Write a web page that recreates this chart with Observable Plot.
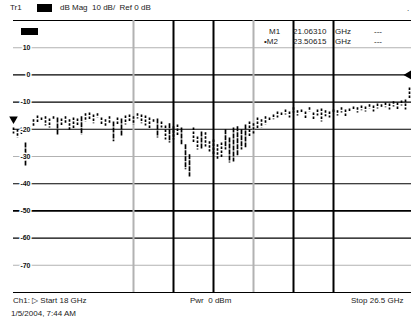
<!DOCTYPE html>
<html><head><meta charset="utf-8">
<script src="https://cdn.jsdelivr.net/npm/d3@7"></script>
<script src="https://cdn.jsdelivr.net/npm/@observablehq/plot@0.6"></script>
<style>
body{margin:0;background:#fff;}
#wrap{position:relative;width:411px;height:321px;overflow:hidden;font-family:"Liberation Sans",Arial,sans-serif;font-size:8px;color:#222;background:#fff;}
#wrap svg{position:absolute;left:0;top:0;}
.t{position:absolute;white-space:pre;line-height:1;}
.box{position:absolute;background:#000;}
</style></head><body><div id="wrap"></div>
<script>
// Sweep / scale settings read from the annotation
const freqStart = 18, freqStop = 26.5, pointCount = 100;
const dbTop = 20, dbBottom = -80;
// Y labels
const yTicks = [10, 0, -10, -20, -30, -40, -50, -60, -70];
const yTickLabels = ["10", "0", "-10", "-20", "-30", "-40", "-50", "-60", "-70"];
// Horizontal graticule lines (dB) and style class: k = black, K = heavy black, g = gray
const hGridDb = [20, 10, 0, -10, -20, -30, -40, -50, -60, -70, -80];
const hGridStyle = ["k", "g", "k", "k", "k", "g", "k", "K", "k", "g", "k"];
// Vertical graticule lines (GHz)
const vGridGHz = [20.55, 21.4, 22.25, 23.1, 23.95, 24.8];
const vGridStyle = ["g", "k", "k", "g", "k", "k"];
// Trace: upper and lower value (dB) of each displayed point
const traceUpper = [-19.5,-20.2,-19.5,-25.0,-19.1,-16.5,-15.1,-15.8,-15.4,-16.2,
  -15.4,-15.8,-16.2,-15.4,-16.5,-15.8,-16.2,-15.4,-14.3,-14.0,
  -14.7,-14.3,-15.8,-16.5,-15.4,-17.3,-15.8,-16.2,-15.1,-14.7,
  -15.4,-14.3,-14.7,-15.1,-15.8,-16.5,-16.2,-17.3,-18.8,-18.0,
  -19.1,-18.4,-19.5,-25.7,-29.4,-19.5,-22.8,-21.0,-21.3,-24.6,
  -23.9,-25.7,-25.0,-20.2,-23.2,-19.5,-19.1,-20.2,-18.4,-17.3,
  -18.0,-15.8,-16.5,-15.4,-15.8,-14.7,-13.6,-14.0,-12.9,-13.6,
  -12.1,-13.2,-12.9,-13.6,-12.1,-14.0,-12.9,-12.5,-13.2,-13.6,
  -12.9,-13.2,-12.1,-12.9,-12.5,-11.8,-12.1,-11.4,-11.8,-11.0,
  -11.4,-10.7,-11.0,-10.3,-10.7,-9.9,-10.3,-9.6,-9.2,-4.8];
const traceLower = [-21.7,-23.2,-22.1,-33.5,-20.6,-19.1,-18.0,-17.3,-18.8,-19.5,
  -16.9,-22.1,-18.8,-18.0,-20.6,-20.2,-18.8,-22.1,-17.3,-16.5,
  -18.0,-15.8,-18.4,-19.1,-18.0,-24.6,-18.8,-22.8,-18.4,-17.6,
  -18.4,-16.2,-18.0,-18.8,-20.2,-18.0,-23.2,-19.5,-23.9,-25.0,
  -23.9,-22.8,-25.7,-34.9,-37.5,-25.0,-27.6,-27.6,-26.5,-28.3,
  -29.4,-31.3,-30.5,-27.6,-32.4,-32.0,-30.1,-27.6,-26.8,-22.8,
  -21.7,-20.2,-19.5,-18.4,-17.3,-16.5,-15.8,-15.4,-14.7,-15.8,
  -14.0,-15.1,-14.3,-16.5,-13.6,-16.9,-15.1,-17.3,-15.4,-15.8,
  -14.3,-15.1,-14.0,-15.8,-14.0,-13.2,-14.0,-13.2,-13.6,-12.5,
  -13.6,-12.5,-12.1,-12.1,-12.9,-11.8,-12.9,-11.4,-12.9,-9.2];
const refMarkerDb = -16.2;
const refLevelDb = 0;

const step = (freqStop - freqStart) / pointCount;
const trace = traceUpper.map((u, i) => ({f: freqStart + i * step, u, l: traceLower[i]}));
const longSeg = trace.filter(d => d.u - d.l > 6);
const shortSeg = trace.filter(d => d.u - d.l <= 6);
const hGrid = hGridDb.map((d, i) => ({d, s: hGridStyle[i]}));
const vGrid = vGridGHz.map((f, i) => ({f, s: vGridStyle[i]}));
const labels = yTicks.map((d, i) => ({d, t: yTickLabels[i]}));
const col = s => s === "g" ? "#b2b2b2" : "#000";

const chart = Plot.plot({
  width: 411, height: 321,
  style: {background: "#fff", overflow: "visible"},
  x: {domain: [freqStart, freqStop], range: [13, 413], axis: null},
  y: {domain: [dbBottom, dbTop], range: [292, 20], axis: null},
  marks: [
    Plot.ruleY(hGrid, {y: "d", x1: freqStart, x2: freqStop, stroke: d => col(d.s), strokeWidth: d => d.s === "K" ? 1.8 : 1.1}),
    Plot.ruleX(vGrid, {x: "f", y1: dbBottom, y2: dbTop, stroke: d => col(d.s), strokeWidth: 2}),
    Plot.ruleX(shortSeg, {x: "f", y1: "u", y2: "l", stroke: "#000", strokeWidth: 1.7, strokeDasharray: "2.5,1.5", strokeLinecap: "butt"}),
    Plot.ruleX(longSeg, {x: "f", y1: "u", y2: "l", stroke: "#000", strokeWidth: 1.7, strokeDasharray: "5,1", strokeLinecap: "butt"}),
    Plot.text(labels, {x: freqStart, y: "d", text: "t", dx: 17, textAnchor: "end", fontSize: 7, fontWeight: "bold", fill: "#111", stroke: "#fff", strokeWidth: 3, fontFamily: "Liberation Sans Narrow, Liberation Sans, sans-serif"}),
    Plot.dot([refMarkerDb], {x: freqStart, y: d => d, symbol: "triangle", rotate: 180, r: 3.2, fill: "#000", stroke: "none"}),
    Plot.dot([refLevelDb], {x: freqStop, y: d => d, dx: -5, symbol: "triangle", rotate: -90, r: 3.2, fill: "#000", stroke: "none"})
  ]
});
const wrap = document.getElementById("wrap");
wrap.appendChild(chart);

const texts = [
  {t: "Tr1", l: 10, tp: 4},
  {t: "dB Mag  10 dB/  Ref 0 dB", l: 60, tp: 4},
  {t: "M1", l: 269, tp: 28},
  {t: "\u2022M2", l: 264, tp: 38},
  {t: "21.06310", l: 293, tp: 28},
  {t: "23.50615", l: 293, tp: 38},
  {t: "GHz", l: 335, tp: 28},
  {t: "GHz", l: 335, tp: 38},
  {t: "---", l: 374, tp: 28},
  {t: "---", l: 374, tp: 38},
  {t: ".", l: 407, tp: 5},
  {t: "Ch1: \u25B7 Start 18 GHz", l: 13, tp: 297},
  {t: "Pwr  0 dBm", l: 190, tp: 297},
  {t: "Stop 26.5 GHz", l: 351, tp: 297},
  {t: "1/5/2004, 7:44 AM", l: 11, tp: 310}
];
for (const d of texts) {
  const s = document.createElement("span");
  s.className = "t"; s.textContent = d.t;
  s.style.left = d.l + "px"; s.style.top = d.tp + "px";
  wrap.appendChild(s);
}
for (const b of [{l: 37, tp: 4, w: 15, h: 8}, {l: 21, tp: 28, w: 17, h: 7}]) {
  const e = document.createElement("div");
  e.className = "box";
  Object.assign(e.style, {left: b.l + "px", top: b.tp + "px", width: b.w + "px", height: b.h + "px"});
  wrap.appendChild(e);
}
</script></body></html>
